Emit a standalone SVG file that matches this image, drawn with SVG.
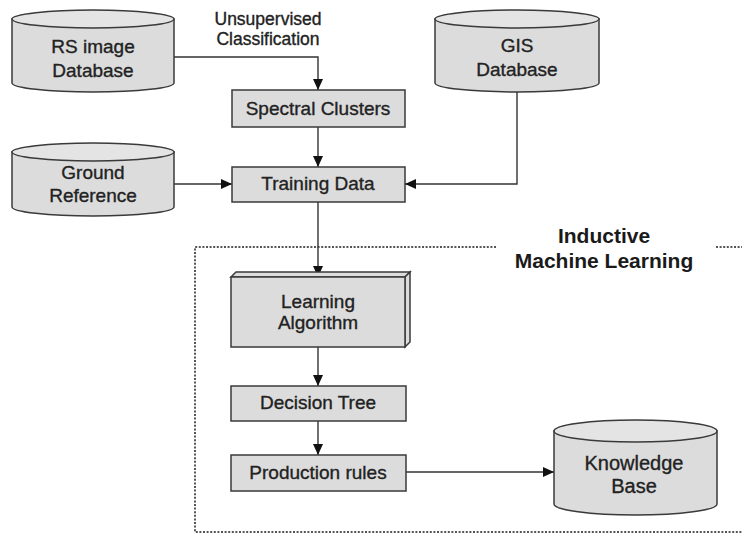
<svg xmlns="http://www.w3.org/2000/svg" width="742" height="534" viewBox="0 0 742 534">
<defs>
<style>
.box{fill:#dcdcdc;stroke:#3a3a3a;stroke-width:1.5}
.cyl{fill:#dcdcdc;stroke:#3a3a3a;stroke-width:1.5}
.top{fill:#e4e4e4;stroke:#3a3a3a;stroke-width:1.5}
.lbl{font-family:"Liberation Sans",Arial,sans-serif;font-size:19px;fill:#222;stroke:#222;stroke-width:0.35;text-anchor:middle}
.hdr{font-family:"Liberation Sans",Arial,sans-serif;font-size:21px;font-weight:bold;fill:#1a1a1a;text-anchor:middle}
.conn{fill:none;stroke:#333;stroke-width:1.4}
.dot{fill:none;stroke:#555;stroke-width:2;stroke-dasharray:2 1.6}
</style>
<marker id="ah" markerUnits="userSpaceOnUse" markerWidth="12" markerHeight="10" refX="11" refY="5" orient="auto">
<path d="M0,0 L11,5 L0,10 Z" fill="#111"/>
</marker>
</defs>

<path class="dot" d="M496,247 H195 V532 H742"/>
<path class="dot" d="M716,247 H742"/>

<g id="connectors">
<path class="conn" d="M174,57 H318 V90" marker-end="url(#ah)"/>
<path class="conn" d="M318,127 V167" marker-end="url(#ah)"/>
<path class="conn" d="M174,184 H232" marker-end="url(#ah)"/>
<path class="conn" d="M517,92 V184 H405" marker-end="url(#ah)"/>
<path class="conn" d="M318,202 V277" marker-end="url(#ah)"/>
<path class="conn" d="M318,347 V386" marker-end="url(#ah)"/>
<path class="conn" d="M318,421 V455" marker-end="url(#ah)"/>
<path class="conn" d="M406,472 H554" marker-end="url(#ah)"/>
</g>

<g id="label-unsupervised">
<text class="lbl" x="268" y="25" style="font-size:17.5px">Unsupervised</text>
<text class="lbl" x="268" y="45" style="font-size:17.5px">Classification</text>
</g>

<g id="rs-db">
<path class="cyl" d="M12,19 V83 A81,9 0 0 0 174,83 V19 Z"/>
<ellipse class="top" cx="93" cy="19" rx="81" ry="9"/>
<text class="lbl" x="93" y="53">RS image</text>
<text class="lbl" x="93" y="77">Database</text>
</g>

<g id="gis-db">
<path class="cyl" d="M435,19 V83 A82,9 0 0 0 599,83 V19 Z"/>
<ellipse class="top" cx="517" cy="19" rx="82" ry="9"/>
<text class="lbl" x="517" y="52">GIS</text>
<text class="lbl" x="517" y="76">Database</text>
</g>

<g id="ground-ref">
<path class="cyl" d="M12,152 V207 A81,9 0 0 0 174,207 V152 Z"/>
<ellipse class="top" cx="93" cy="152" rx="81" ry="9"/>
<text class="lbl" x="93" y="179">Ground</text>
<text class="lbl" x="93" y="202">Reference</text>
</g>

<g id="spectral">
<rect class="box" x="232" y="90" width="173" height="37"/>
<text class="lbl" x="318" y="115">Spectral Clusters</text>
</g>

<g id="training">
<rect class="box" x="232" y="167" width="173" height="35"/>
<text class="lbl" x="318" y="190">Training Data</text>
</g>

<g id="iml-label">
<text class="hdr" x="604" y="243">Inductive</text>
<text class="hdr" x="604" y="268">Machine Learning</text>
</g>

<g id="learning">
<polygon class="box" points="231,277 236,272 410,272 405,277"/>
<polygon class="box" points="405,277 410,272 410,342 405,347"/>
<rect class="box" x="231" y="277" width="174" height="70"/>
<text class="lbl" x="318" y="308">Learning</text>
<text class="lbl" x="318" y="329">Algorithm</text>
</g>

<g id="decision">
<rect class="box" x="231" y="386" width="175" height="35"/>
<text class="lbl" x="318" y="409">Decision Tree</text>
</g>

<g id="production">
<rect class="box" x="231" y="455" width="175" height="36"/>
<text class="lbl" x="318" y="479">Production rules</text>
</g>

<g id="knowledge">
<path class="cyl" d="M554,431 V504 A81.5,11 0 0 0 717,504 V431 Z"/>
<ellipse class="top" cx="635.5" cy="431" rx="81.5" ry="11"/>
<text class="lbl" x="634" y="470" style="font-size:20px">Knowledge</text>
<text class="lbl" x="634" y="493" style="font-size:20px">Base</text>
</g>
</svg>
